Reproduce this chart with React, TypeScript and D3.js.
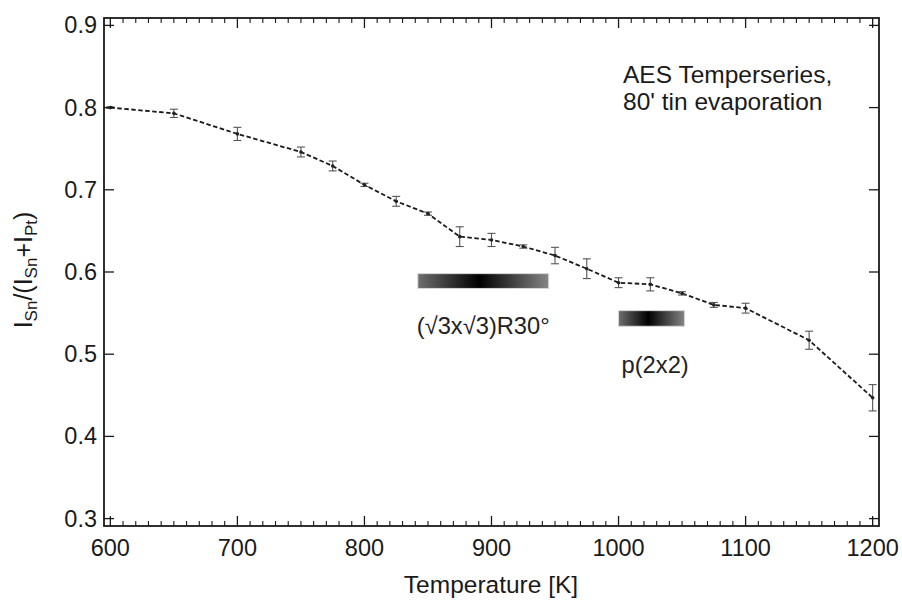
import React from "react";
import * as d3 from "d3";

const temperatures = [600, 650, 700, 750, 775, 800, 825, 850, 875, 900, 925, 950, 975, 1000, 1025, 1050, 1075, 1100, 1150, 1200];
const ratios = [0.800, 0.793, 0.768, 0.746, 0.729, 0.706, 0.686, 0.671, 0.643, 0.639, 0.631, 0.620, 0.604, 0.587, 0.585, 0.574, 0.560, 0.556, 0.517, 0.447];
const errors = [0.001, 0.005, 0.008, 0.006, 0.006, 0.002, 0.006, 0.002, 0.012, 0.008, 0.002, 0.010, 0.012, 0.006, 0.008, 0.002, 0.003, 0.006, 0.011, 0.016];

const xTicks = [600, 700, 800, 900, 1000, 1100, 1200];
const yTicks = [0.3, 0.4, 0.5, 0.6, 0.7, 0.8, 0.9];

const phaseNames = ["(√3x√3)R30°", "p(2x2)"];
const phaseStart = [842, 1000];
const phaseEnd = [945, 1052];
const phaseLow = [0.580, 0.534];
const phaseHigh = [0.598, 0.553];
const phaseDark = [0.47, 0.45];

const noteLines = ["AES Temperseries,", "80' tin evaporation"];

const W = 902;
const H = 601;
const M = { left: 104, right: 879, top: 18, bottom: 526 };
const FONT = "'Liberation Sans', Arial, sans-serif";

export default function App() {
  const x = d3.scaleLinear().domain([595, 1205]).range([M.left, M.right]);
  const y = d3.scaleLinear().domain([0.291, 0.909]).range([M.bottom, M.top]);
  const minor = d3.range(600, 1201, 10).filter((t) => t % 100 !== 0);

  const pts = temperatures.map((t, i) => ({ t, v: ratios[i], e: errors[i] }));
  const line = d3
    .line<{ t: number; v: number }>()
    .x((d) => x(d.t))
    .y((d) => y(d.v));

  const axisColor = "#1a1a1a";

  return (
    <svg width={W} height={H} style={{ position: "absolute", left: 0, top: 0, background: "#fff" }} fontFamily={FONT}>
      <defs>
        {phaseNames.map((_, i) => (
          <linearGradient key={i} id={`phase${i}`} x1="0" x2="1" y1="0" y2="0">
            <stop offset="0" stopColor="#6e6e6e" />
            <stop offset={phaseDark[i]} stopColor="#000" />
            <stop offset="1" stopColor="#858585" />
          </linearGradient>
        ))}
      </defs>

      {/* phase bars */}
      {phaseNames.map((name, i) => (
        <g key={name}>
          <rect
            x={x(phaseStart[i])}
            y={y(phaseHigh[i])}
            width={x(phaseEnd[i]) - x(phaseStart[i])}
            height={y(phaseLow[i]) - y(phaseHigh[i])}
            fill={`url(#phase${i})`}
            stroke="#d8d8d8"
            strokeWidth={1}
          />
          <text
            x={x(phaseStart[i]) + (i === 0 ? -1 : 3)}
            y={y(phaseLow[i]) + (i === 0 ? 46 : 47)}
            fontSize={23.7}
            fill="#222"
          >
            {name}
          </text>
        </g>
      ))}

      {/* dashed line */}
      <path d={line(pts) || ""} fill="none" stroke="#1a1a1a" strokeWidth={1.8} strokeDasharray="4.5,2.5" />

      {/* error bars */}
      {pts.map((p) => {
        const cx = x(p.t);
        const y0 = y(p.v - p.e);
        const y1 = y(p.v + p.e);
        return (
          <g key={p.t} stroke="#555" strokeWidth={1.1}>
            <line x1={cx} x2={cx} y1={y0} y2={y1} />
            <line x1={cx - 4} x2={cx + 4} y1={y0} y2={y0} />
            <line x1={cx - 4} x2={cx + 4} y1={y1} y2={y1} />
            <circle cx={cx} cy={y(p.v)} r={1.8} fill="#222" stroke="none" />
          </g>
        );
      })}

      {/* frame */}
      <rect x={M.left} y={M.top} width={M.right - M.left} height={M.bottom - M.top} fill="none" stroke={axisColor} strokeWidth={1.8} />

      {/* x ticks */}
      {xTicks.map((t) => (
        <g key={t} stroke={axisColor} strokeWidth={1.3}>
          <line x1={x(t)} x2={x(t)} y1={M.bottom} y2={M.bottom - 10} />
          <line x1={x(t)} x2={x(t)} y1={M.top} y2={M.top + 10} />
        </g>
      ))}
      {minor.map((t) => (
        <g key={t} stroke={axisColor} strokeWidth={1.1}>
          <line x1={x(t)} x2={x(t)} y1={M.bottom} y2={M.bottom - 5} />
          <line x1={x(t)} x2={x(t)} y1={M.top} y2={M.top + 5} />
        </g>
      ))}
      {xTicks.map((t) => (
        <text key={t} x={x(t)} y={556} textAnchor="middle" fontSize={23.5} fill="#1a1a1a">
          {t}
        </text>
      ))}

      {/* y ticks */}
      {yTicks.map((v) => (
        <g key={v} stroke={axisColor} strokeWidth={1.3}>
          <line x1={M.left} x2={M.left + 10} y1={y(v)} y2={y(v)} />
          <line x1={M.right} x2={M.right - 10} y1={y(v)} y2={y(v)} />
        </g>
      ))}
      {yTicks.map((v) => (
        <text key={v} x={97} y={y(v) + 8} textAnchor="end" fontSize={23.5} fill="#1a1a1a">
          {d3.format(".1f")(v)}
        </text>
      ))}

      {/* axis titles */}
      <text x={491} y={593} textAnchor="middle" fontSize={24.5} fill="#1a1a1a">
        Temperature [K]
      </text>
      <text transform={`translate(32,270) rotate(-90)`} textAnchor="middle" fontSize={25} fill="#1a1a1a">
        I<tspan fontSize={17} dy={5}>Sn</tspan>
        <tspan dy={-5}>/(I</tspan>
        <tspan fontSize={17} dy={5}>Sn</tspan>
        <tspan dy={-5}>+I</tspan>
        <tspan fontSize={17} dy={5}>Pt</tspan>
        <tspan dy={-5}>)</tspan>
      </text>

      {/* note */}
      {noteLines.map((l, i) => (
        <text key={l} x={623} y={83 + i * 27} fontSize={24.5} fill="#1a1a1a">
          {l}
        </text>
      ))}
    </svg>
  );
}
